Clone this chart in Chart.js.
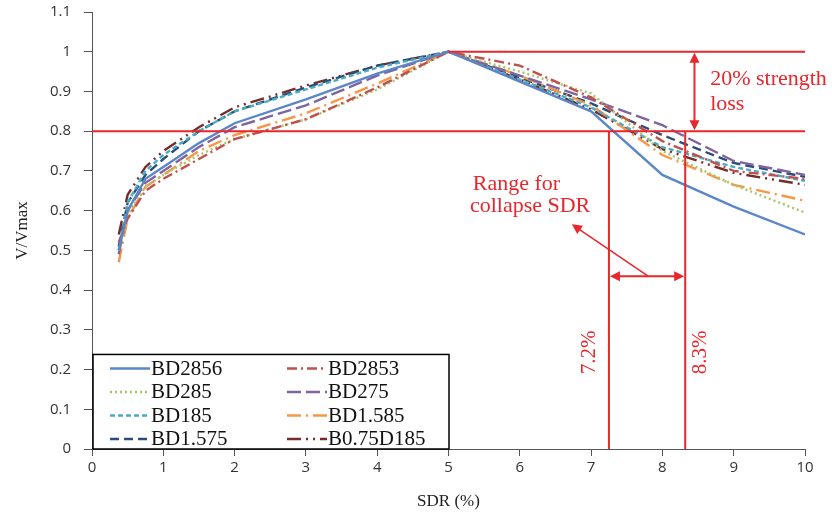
<!DOCTYPE html>
<html>
<head>
<meta charset="utf-8" />
<title>V/Vmax vs SDR</title>
<script src="https://cdn.jsdelivr.net/npm/chart.js@4.4.1/dist/chart.umd.min.js"></script>
<style>
  html, body { margin: 0; padding: 0; background: #fff; }
  #wrap { width: 832px; height: 525px; }
</style>
</head>
<body>
<div id="wrap"><canvas id="chart" width="832" height="525"></canvas></div>
<script>
// drift values (SDR %)
var sdr = [0.375, 0.5, 0.75, 1, 1.5, 2, 3, 4, 5, 6, 7, 8, 9, 10];

// V/Vmax for each specimen
var bd2856   = [0.50, 0.60, 0.68, 0.71, 0.77, 0.82, 0.88, 0.945, 1.0, 0.925, 0.85, 0.69, 0.61, 0.54];
var bd2853   = [0.52, 0.58, 0.65, 0.68, 0.73, 0.78, 0.83, 0.91, 1.0, 0.965, 0.885, 0.775, 0.70, 0.68];
var bd285    = [0.50, 0.59, 0.66, 0.69, 0.74, 0.78, 0.83, 0.905, 1.0, 0.95, 0.895, 0.75, 0.665, 0.595];
var bd275    = [0.49, 0.60, 0.67, 0.70, 0.76, 0.81, 0.865, 0.94, 1.0, 0.94, 0.88, 0.815, 0.725, 0.69];
var bd185    = [0.50, 0.62, 0.70, 0.74, 0.80, 0.85, 0.905, 0.96, 1.0, 0.93, 0.86, 0.76, 0.71, 0.675];
var bd1585   = [0.47, 0.58, 0.66, 0.69, 0.75, 0.79, 0.845, 0.92, 1.0, 0.94, 0.865, 0.74, 0.665, 0.625];
var bd1575   = [0.51, 0.62, 0.69, 0.73, 0.80, 0.85, 0.91, 0.965, 1.0, 0.935, 0.87, 0.79, 0.72, 0.685];
var b075d185 = [0.54, 0.64, 0.71, 0.75, 0.81, 0.86, 0.915, 0.965, 1.0, 0.93, 0.855, 0.755, 0.695, 0.665];

var names = ["BD2856", "BD2853", "BD285", "BD275", "BD185", "BD1.585", "BD1.575", "B0.75D185"];

// annotation values
var lossLevels = [1.0, 0.8];        // horizontal red lines
var collapseSdr = [7.25, 8.32];     // vertical red lines
var lossArrowX = 8.45;
var rangeArrowY = 0.435;

var RED = "#e8262b";
var SERIF = "'Liberation Serif', 'DejaVu Serif', serif";

function pts(ys) {
  return sdr.map(function (x, i) { return { x: x, y: ys[i] }; });
}

function ds(label, ys, color, dash) {
  return {
    label: label,
    data: pts(ys),
    borderColor: color,
    backgroundColor: color,
    borderWidth: 2.4,
    borderDash: dash,
    pointRadius: 0,
    tension: 0,
    fill: false
  };
}

function arrowHead(ctx, x, y, ang) {
  ctx.save();
  ctx.translate(x, y);
  ctx.rotate(ang);
  ctx.beginPath();
  ctx.moveTo(0, 0);
  ctx.lineTo(-10, -5);
  ctx.lineTo(-10, 5);
  ctx.closePath();
  ctx.fill();
  ctx.restore();
}

var annotations = {
  id: "annotations",
  afterDatasetsDraw: function (chart) {
    var ctx = chart.ctx, xs = chart.scales.x, ys = chart.scales.y;
    ctx.save();
    ctx.strokeStyle = RED;
    ctx.fillStyle = RED;
    ctx.lineWidth = 2;

    // 100% line from peak onward, 80% line full width
    ctx.beginPath();
    ctx.moveTo(xs.getPixelForValue(5), ys.getPixelForValue(lossLevels[0]));
    ctx.lineTo(xs.getPixelForValue(10), ys.getPixelForValue(lossLevels[0]));
    ctx.moveTo(xs.getPixelForValue(0), ys.getPixelForValue(lossLevels[1]));
    ctx.lineTo(xs.getPixelForValue(10), ys.getPixelForValue(lossLevels[1]));
    collapseSdr.forEach(function (v) {
      ctx.moveTo(xs.getPixelForValue(v), ys.getPixelForValue(lossLevels[1]));
      ctx.lineTo(xs.getPixelForValue(v), ys.getPixelForValue(0));
    });
    ctx.stroke();

    // vertical double arrow (20% loss)
    var ax = xs.getPixelForValue(lossArrowX);
    var y1 = ys.getPixelForValue(lossLevels[0]), y2 = ys.getPixelForValue(lossLevels[1]);
    ctx.beginPath();
    ctx.moveTo(ax, y1 + 8); ctx.lineTo(ax, y2 - 8);
    ctx.stroke();
    arrowHead(ctx, ax, y1 + 1, -Math.PI / 2);
    arrowHead(ctx, ax, y2 - 1, Math.PI / 2);

    // horizontal double arrow (collapse range)
    var ry = ys.getPixelForValue(rangeArrowY);
    var rx1 = xs.getPixelForValue(collapseSdr[0]), rx2 = xs.getPixelForValue(collapseSdr[1]);
    ctx.beginPath();
    ctx.moveTo(rx1 + 8, ry); ctx.lineTo(rx2 - 8, ry);
    ctx.stroke();
    arrowHead(ctx, rx1 + 1, ry, Math.PI);
    arrowHead(ctx, rx2 - 1, ry, 0);

    // pointer arrow to label
    var px1 = xs.getPixelForValue(7.8), py1 = ry;
    var px2 = xs.getPixelForValue(6.73), py2 = ys.getPixelForValue(0.566);
    ctx.lineWidth = 1.5;
    ctx.beginPath();
    ctx.moveTo(px1, py1); ctx.lineTo(px2 + 7, py2 + 5);
    ctx.stroke();
    arrowHead(ctx, px2, py2, Math.atan2(py2 - py1, px2 - px1));

    // texts
    ctx.font = "22px " + SERIF;
    ctx.textAlign = "left";
    ctx.textBaseline = "middle";
    ctx.fillText("20% strength", xs.getPixelForValue(8.67), ys.getPixelForValue(0.93));
    ctx.fillText("loss", xs.getPixelForValue(8.67), ys.getPixelForValue(0.867));
    ctx.fillText("Range for", xs.getPixelForValue(5.34), ys.getPixelForValue(0.667));
    ctx.fillText("collapse SDR", xs.getPixelForValue(5.3), ys.getPixelForValue(0.611));

    ctx.font = "21px " + SERIF;
    [["7.2%", 6.98], ["8.3%", 8.54]].forEach(function (t) {
      ctx.save();
      ctx.translate(xs.getPixelForValue(t[1]), ys.getPixelForValue(0.243));
      ctx.rotate(-Math.PI / 2);
      ctx.textAlign = "center";
      ctx.fillText(t[0], 0, 0);
      ctx.restore();
    });
    ctx.restore();
  }
};

var boxLegend = {
  id: "boxLegend",
  afterDraw: function (chart) {
    var ctx = chart.ctx, area = chart.chartArea;
    var left = area.left + 1, top = chart.scales.y.getPixelForValue(0.238), right = left + 356, bottom = area.bottom;
    ctx.save();
    ctx.fillStyle = "#fff";
    ctx.fillRect(left, top, right - left, bottom - top);
    ctx.strokeStyle = "#000";
    ctx.lineWidth = 1.5;
    ctx.strokeRect(left, top, right - left, bottom - top);
    ctx.font = "21px " + SERIF;
    ctx.textBaseline = "middle";
    ctx.fillStyle = "#111";
    chart.data.datasets.forEach(function (d, i) {
      var col = i % 2, row = Math.floor(i / 2);
      var y = top + 14 + row * 23.5;
      var x0 = left + 17 + col * 177;
      ctx.save();
      ctx.strokeStyle = d.borderColor;
      ctx.lineWidth = 2.4;
      ctx.setLineDash(d.borderDash || []);
      ctx.beginPath();
      ctx.moveTo(x0, y); ctx.lineTo(x0 + 40, y);
      ctx.stroke();
      ctx.restore();
      ctx.fillText(d.label, x0 + 41, y + 1);
    });
    ctx.restore();
  }
};

new Chart(document.getElementById("chart"), {
  type: "line",
  data: {
    datasets: [
      ds(names[0], bd2856, "#5b86c8", []),
      ds(names[1], bd2853, "#c0504d", [10, 4, 2, 4]),
      ds(names[2], bd285, "#a9c46a", [2, 3]),
      ds(names[3], bd275, "#8064a2", [14, 5]),
      ds(names[4], bd185, "#4bacc6", [5, 3]),
      ds(names[5], bd1585, "#f79646", [14, 5, 2, 5]),
      ds(names[6], bd1575, "#2c4d75", [9, 5]),
      ds(names[7], b075d185, "#772c2a", [14, 5, 2, 5, 2, 5])
    ]
  },
  options: {
    responsive: false,
    animation: false,
    layout: { padding: { top: 12, right: 27, left: 8, bottom: 0 } },
    plugins: { legend: { display: false }, tooltip: { enabled: false } },
    scales: {
      x: {
        type: "linear", min: 0, max: 10,
        ticks: { stepSize: 1, color: "#333", font: { family: "'Open Sans', sans-serif", size: 15 }, padding: 3 },
        grid: { drawOnChartArea: false, drawTicks: true, tickLength: 7, color: "#555" },
        border: { color: "#555", width: 1 },
        title: { display: true, text: "SDR (%)", color: "#222", font: { family: SERIF, size: 17 }, padding: { top: 4, bottom: 13 } },
        afterFit: function (s) { s.height = 76; }
      },
      y: {
        min: 0, max: 1.1,
        ticks: {
          stepSize: 0.1, color: "#333", font: { family: "'Open Sans', sans-serif", size: 15 }, padding: 13,
          callback: function (v) { return String(Math.round(v * 10) / 10); }
        },
        grid: { drawOnChartArea: false, drawTicks: true, tickLength: 8, color: "#555" },
        border: { color: "#555", width: 1 },
        title: { display: true, text: "V/Vmax", color: "#222", font: { family: SERIF, size: 17 }, padding: { bottom: 4 } },
        afterFit: function (s) { s.width = 84; s.paddingTop = 0; }
      }
    }
  },
  plugins: [annotations, boxLegend]
});
</script>
</body>
</html>
